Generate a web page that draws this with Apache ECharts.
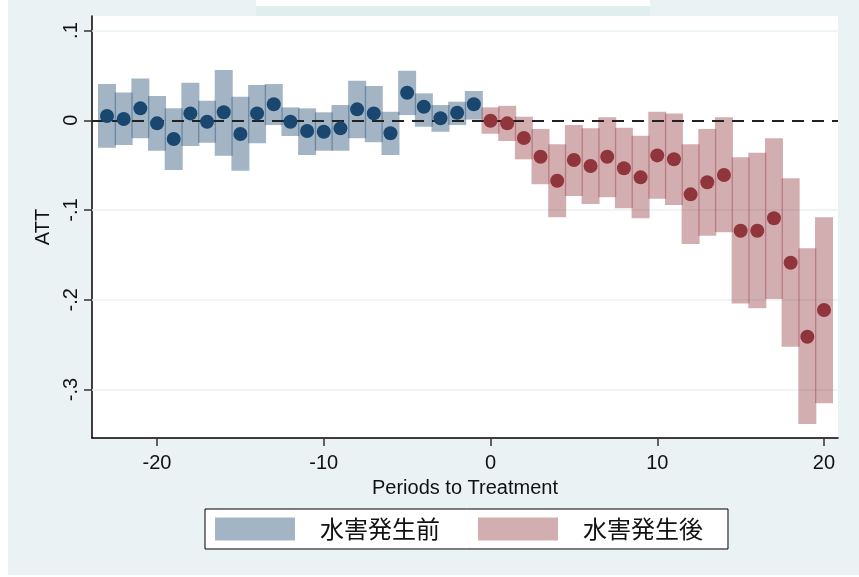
<!DOCTYPE html>
<html>
<head>
<meta charset="utf-8">
<script src="https://cdn.jsdelivr.net/npm/echarts@6/dist/echarts.min.js"></script>
<style>
  html, body { margin: 0; padding: 0; background: #fff; }
  #chart { width: 859px; height: 577px; }
</style>
</head>
<body>
<div id="chart"></div>
<script>
// Event-study estimates: periods relative to the flood, ATT and 95% CI bounds
const prePeriods  = [-23, -22, -21, -20, -19, -18, -17, -16, -15, -14, -13, -12, -11, -10, -9, -8, -7, -6, -5, -4, -3, -2, -1];
const preATT      = [0.0047, 0.0014, 0.0133, -0.0034, -0.0209, 0.0077, -0.0016, 0.0089, -0.0153, 0.0077, 0.0178, -0.0016, -0.0120, -0.0128, -0.0090, 0.0122, 0.0077, -0.0145, 0.0307, 0.0151, 0.0022, 0.0084, 0.0178];
const preLow      = [-0.0306, -0.0276, -0.0201, -0.0339, -0.0554, -0.0287, -0.0250, -0.0395, -0.0562, -0.0257, -0.0053, -0.0175, -0.0387, -0.0339, -0.0339, -0.0201, -0.0246, -0.0387, 0.0058, -0.0072, -0.0128, -0.0053, 0.0008];
const preHigh     = [0.0404, 0.0311, 0.0467, 0.0270, 0.0133, 0.0418, 0.0218, 0.0560, 0.0262, 0.0393, 0.0404, 0.0144, 0.0133, 0.0089, 0.0170, 0.0441, 0.0382, 0.0095, 0.0552, 0.0300, 0.0170, 0.0207, 0.0326];

const postPeriods = [0, 1, 2, 3, 4, 5, 6, 7, 8, 9, 10, 11, 12, 13, 14, 15, 16, 17, 18, 19, 20];
const postATT     = [-0.0005, -0.0034, -0.0198, -0.0406, -0.0674, -0.0443, -0.0510, -0.0406, -0.0535, -0.0636, -0.0391, -0.0434, -0.0825, -0.0691, -0.0610, -0.1231, -0.1231, -0.1092, -0.1587, -0.2412, -0.2114];
const postLow     = [-0.0150, -0.0231, -0.0435, -0.0714, -0.1081, -0.0844, -0.0933, -0.0858, -0.0981, -0.1092, -0.0874, -0.0944, -0.1379, -0.1286, -0.1248, -0.2040, -0.2095, -0.1992, -0.2523, -0.3384, -0.3154];
const postHigh    = [0.0144, 0.0161, 0.0040, -0.0097, -0.0268, -0.0053, -0.0090, 0.0033, -0.0083, -0.0172, 0.0095, 0.0077, -0.0268, -0.0097, 0.0033, -0.0413, -0.0362, -0.0201, -0.0647, -0.1427, -0.1081];

const xTicks = [-20, -10, 0, 10, 20];
const yTicks = [-0.3, -0.2, -0.1, 0, 0.1];

const preName = '水害発生前';
const postName = '水害発生後';

const FONT = '"Liberation Sans", Arial, Helvetica, sans-serif';
const CJK = '"Noto Sans CJK JP", sans-serif';

function bandRows(xs, lo, hi) { return xs.map((x, i) => [x, lo[i], hi[i]]); }
function pointRows(xs, ys) { return xs.map((x, i) => [x, ys[i]]); }

// Each CI is a one-period-wide bar; neighbours overlap slightly so their edges darken
function renderBand(params, api) {
  const k = api.value(0), lo = api.value(1), hi = api.value(2);
  const a = api.coord([k - 0.54, hi]);
  const b = api.coord([k + 0.54, lo]);
  return {
    type: 'rect',
    shape: { x: a[0], y: a[1], width: b[0] - a[0], height: b[1] - a[1] },
    style: { fill: api.visual('color') }
  };
}

function fmtY(v) {
  if (Math.abs(v) < 1e-9) return '0';
  return v.toFixed(1).replace('0.', '.');
}

const chart = echarts.init(document.getElementById('chart'), null, { renderer: 'canvas' });
chart.setOption({
  backgroundColor: '#ffffff',
  animation: false,
  graphic: [
    { type: 'rect', z: -20, left: 8, top: 0, shape: { width: 851, height: 575 }, style: { fill: '#eaf2f3' } },
    { type: 'rect', z: -19, left: 256, top: 0, shape: { width: 394, height: 6 }, style: { fill: '#ffffff' } },
    { type: 'rect', z: -19, left: 256, top: 6, shape: { width: 394, height: 10 }, style: { fill: '#e1eeee' } }
  ],
  grid: {
    left: 92, right: 21, top: 16, bottom: 139,
    show: true, backgroundColor: '#ffffff', borderWidth: 0
  },
  legend: {
    left: 205, top: 509,
    padding: [8, 25, 8, 10],
    backgroundColor: '#ffffff',
    borderColor: '#000000', borderWidth: 1, borderRadius: 0,
    itemWidth: 80, itemHeight: 23, itemGap: 38,
    selectedMode: false,
    textStyle: { fontFamily: CJK, fontSize: 24, color: '#111', padding: [0, 0, 0, 20] },
    data: [{ name: preName, icon: 'rect' }, { name: postName, icon: 'rect' }]
  },
  xAxis: {
    type: 'value', min: -23.9, max: 20.84,
    name: 'Periods to Treatment', nameLocation: 'middle', nameGap: 40,
    nameTextStyle: { fontFamily: FONT, fontSize: 20, color: '#111' },
    axisLine: { show: true, onZero: false, lineStyle: { color: '#000', width: 1.5 } },
    axisTick: { show: true, length: 8, customValues: xTicks, lineStyle: { color: '#333', width: 1.5 } },
    axisLabel: { customValues: xTicks, margin: 15, fontFamily: FONT, fontSize: 20, color: '#111' },
    splitLine: { show: false }
  },
  yAxis: {
    type: 'value', min: -0.354, max: 0.1162,
    name: 'ATT', nameLocation: 'middle', nameGap: 35, nameRotate: 90,
    nameTextStyle: { fontFamily: FONT, fontSize: 20, color: '#111' },
    axisLine: { show: true, onZero: false, lineStyle: { color: '#000', width: 1.5 } },
    axisTick: { show: true, length: 8, customValues: yTicks, lineStyle: { color: '#333', width: 1.5 } },
    axisLabel: { customValues: yTicks, rotate: 90, margin: 11, fontFamily: FONT, fontSize: 20, color: '#111', formatter: fmtY },
    splitLine: { show: false }
  },
  series: [
    {
      name: 'grid', type: 'line', data: [], silent: true, z: 1,
      markLine: {
        z: 1, silent: true, symbol: 'none', label: { show: false },
        lineStyle: { color: '#eaf2f3', width: 1.5, type: 'solid' },
        data: yTicks.filter(v => v !== 0).map(v => ({ yAxis: v }))
      }
    },
    {
      name: preName, type: 'custom', z: 2,
      itemStyle: { color: 'rgba(26,71,111,0.4)' },
      renderItem: renderBand, encode: { x: 0, y: [1, 2] },
      data: bandRows(prePeriods, preLow, preHigh)
    },
    {
      name: postName, type: 'custom', z: 2,
      itemStyle: { color: 'rgba(144,53,59,0.4)' },
      renderItem: renderBand, encode: { x: 0, y: [1, 2] },
      data: bandRows(postPeriods, postLow, postHigh)
    },
    {
      name: 'zero', type: 'line', data: [], silent: true, z: 3,
      markLine: {
        z: 3, silent: true, symbol: 'none', label: { show: false },
        lineStyle: { color: '#222', width: 2, type: [12, 8] },
        data: [{ yAxis: 0 }]
      }
    },
    {
      name: preName, type: 'scatter', z: 4, symbol: 'circle', symbolSize: 14,
      itemStyle: { color: '#1a476f', opacity: 1 },
      data: pointRows(prePeriods, preATT)
    },
    {
      name: postName, type: 'scatter', z: 4, symbol: 'circle', symbolSize: 14,
      itemStyle: { color: '#90353b', opacity: 1 },
      data: pointRows(postPeriods, postATT)
    }
  ]
});
</script>
</body>
</html>
